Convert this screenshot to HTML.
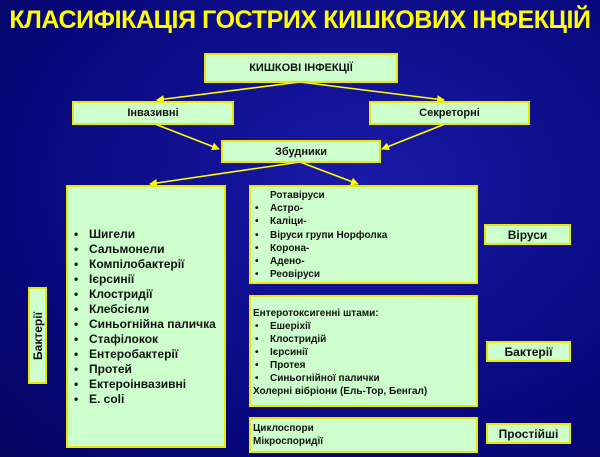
<!DOCTYPE html>
<html><head><meta charset="utf-8"><style>
body{margin:0;width:600px;height:457px;overflow:hidden;background:radial-gradient(ellipse at 60% 40%,#1a1aa8,#07077a 70%,#050560);font-family:"Liberation Sans",sans-serif;position:relative}
.t{position:absolute;left:0;width:600px;top:6px;text-align:center;color:#ffff00;font-weight:bold;font-size:25px;letter-spacing:-0.4px;white-space:nowrap}
.b{position:absolute;background:#ccffcc;border:2px solid #e8e800;box-sizing:border-box;font-weight:bold;color:#111;font-size:11px}
.c{display:flex;align-items:center;justify-content:center}
ul{margin:0;padding:0;list-style:none}
li{position:relative;padding-left:17px}
li:before{content:"•";position:absolute;left:2px}
</style></head><body>
<div class="t">КЛАСИФІКАЦІЯ ГОСТРИХ КИШКОВИХ ІНФЕКЦІЙ</div>
<svg width="600" height="457" style="position:absolute;left:0;top:0">
<defs><marker id="a" markerWidth="8" markerHeight="8" refX="7" refY="4" orient="auto" markerUnits="userSpaceOnUse"><path d="M0,0L8,4L0,8z" fill="#ffff00"/></marker></defs>
<g stroke="#ffff00" stroke-width="1.6" marker-end="url(#a)">
<line x1="300" y1="82" x2="157" y2="100"/>
<line x1="300" y1="82" x2="444" y2="100"/>
<line x1="155" y1="124" x2="219" y2="149"/>
<line x1="445" y1="124" x2="382" y2="149"/>
<line x1="300" y1="162" x2="150" y2="184"/>
<line x1="300" y1="162" x2="358" y2="184"/>
</g></svg>
<div class="b c" style="left:204px;top:53px;width:194px;height:30px">КИШКОВІ ІНФЕКЦІЇ</div>
<div class="b c" style="left:72px;top:101px;width:162px;height:24px">Інвазивні</div>
<div class="b c" style="left:369px;top:101px;width:161px;height:24px">Секреторні</div>
<div class="b c" style="left:221px;top:140px;width:160px;height:23px">Збудники</div>
<div class="b" style="left:66px;top:185px;width:160px;height:263px;font-size:12px;padding:40px 0 0 4px;line-height:15px"><ul>
<li>Шигели</li><li>Сальмонели</li><li>Компілобактерії</li><li>Ієрсинії</li><li>Клостридії</li><li>Клебсієли</li><li>Синьогнійна паличка</li><li>Стафілокок</li><li>Ентеробактерії</li><li>Протей</li><li>Ектероінвазивні</li><li>E. coli</li></ul></div>
<div class="b" style="left:249px;top:185px;width:229px;height:99px;padding:2px 0 0 2px;line-height:13.2px;font-size:10px"><div style="padding-left:17px">Ротавіруси</div><ul>
<li>Астро-</li><li>Каліци-</li><li>Віруси групи Норфолка</li><li>Корона-</li><li>Адено-</li><li>Реовіруси</li></ul></div>
<div class="b" style="left:249px;top:295px;width:229px;height:112px;padding:10px 0 0 2px;line-height:13px;font-size:10px"><div>Ентеротоксигенні штами:</div><ul>
<li>Ешерiхії</li><li>Клостридій</li><li>Ієрсинії</li><li>Протея</li><li>Синьогнійної палички</li></ul><div>Холерні вібріони (Ель-Тор, Бенгал)</div></div>
<div class="b" style="left:249px;top:417px;width:229px;height:36px;padding:3px 0 0 2px;line-height:13px;font-size:10px">Циклоспори<br>Мікроспоридії</div>
<div class="b c" style="left:484px;top:224px;width:87px;height:21px;font-size:12px">Віруси</div>
<div class="b c" style="left:486px;top:341px;width:85px;height:21px;font-size:12px">Бактерії</div>
<div class="b c" style="left:486px;top:423px;width:85px;height:21px;font-size:12px">Простійші</div>
<div class="b c" style="left:28px;top:287px;width:19px;height:97px;font-size:12px"><span style="transform:rotate(-90deg);white-space:nowrap">Бактерії</span></div>
</body></html>
